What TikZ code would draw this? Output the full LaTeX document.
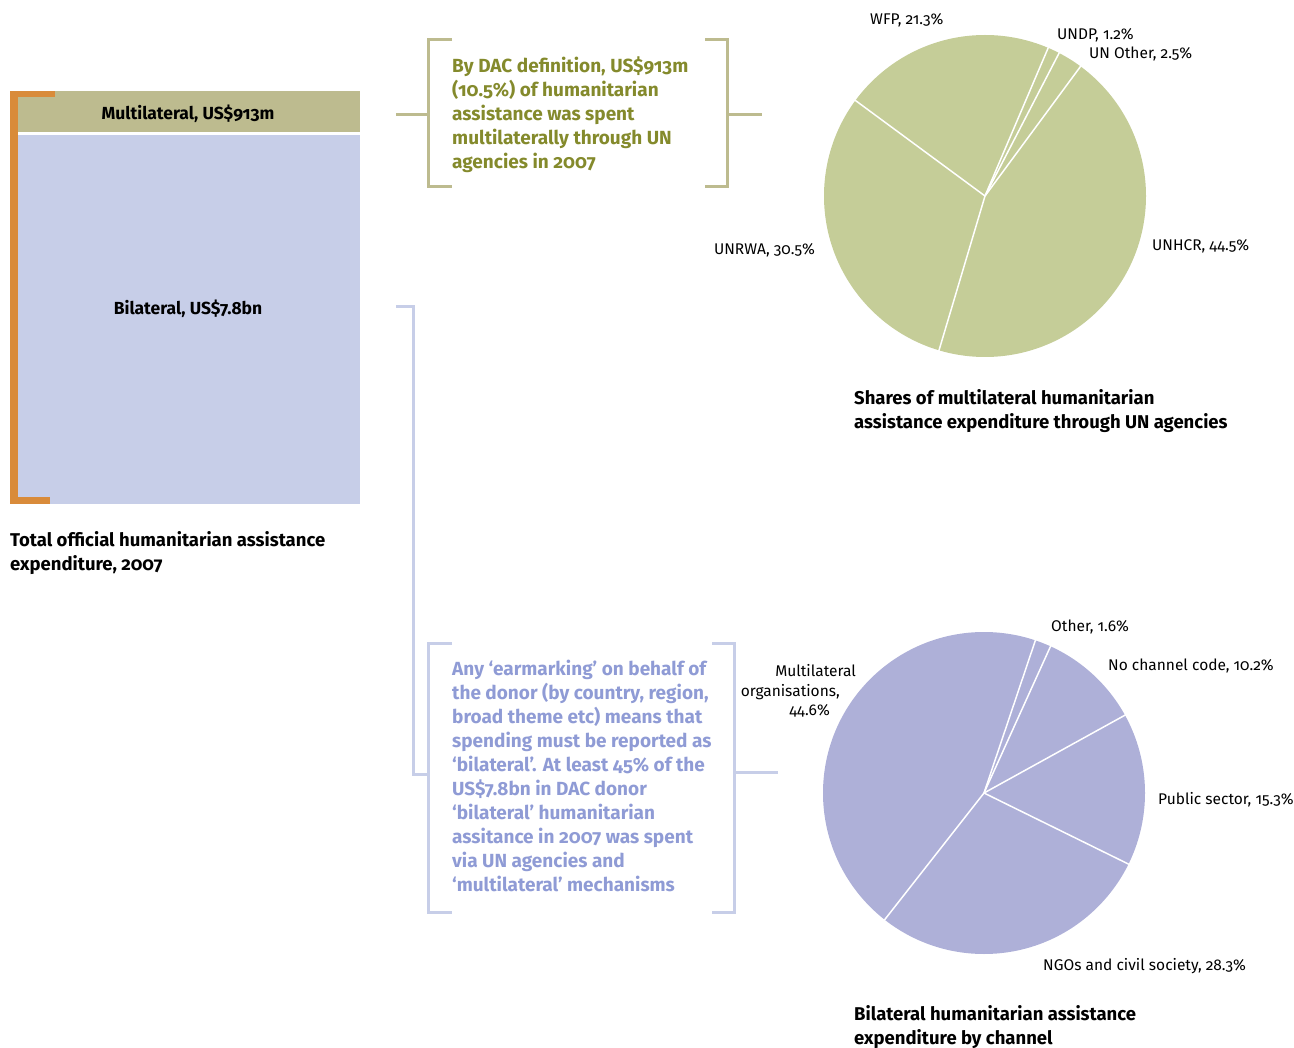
\documentclass[tikz,border=0pt]{standalone}
\usepackage{fontspec}
\setmainfont{Fira Sans}[RawFeature=+onum]
\definecolor{orangebar}{HTML}{D98B3A}
\definecolor{olivebox}{HTML}{BDBB8F}
\definecolor{lavbox}{HTML}{C7CEE8}
\definecolor{olivetext}{HTML}{848A2C}
\definecolor{lavtext}{HTML}{8F9BD5}
\definecolor{pieone}{HTML}{C5CD98}
\definecolor{pietwo}{HTML}{AEB0D8}
\tikzset{
  lbl/.style={inner sep=0pt, font=\fontsize{15.5}{20}\selectfont, text=black},
  capt/.style={inner sep=0pt, anchor=north west, align=left, font=\fontsize{18.5}{24.5}\selectfont\bfseries, text=black},
  note/.style={inner sep=0pt, anchor=north west, align=left, font=\fontsize{19}{24}\selectfont\bfseries},
  barlbl/.style={inner sep=0pt, font=\fontsize{17.5}{20}\selectfont\bfseries},
  brk/.style={line width=3pt},
  sep/.style={draw=white, line width=1.5pt},
}
\begin{document}
\begin{tikzpicture}[x=1pt,y=-1pt]
\useasboundingbox (0,0) rectangle (1294,1048);
% left stacked bar
\fill[olivebox] (18,91) rectangle (360,132);
\fill[lavbox] (18,135) rectangle (360,504);
\fill[orangebar] (10,91) rectangle (18,504);
\fill[orangebar] (10,91) rectangle (55,97);
\fill[orangebar] (10,497) rectangle (50,504);
\node[barlbl] (multi) at (188,114) {Multilateral, US\$913m};
\node[barlbl] (bilat) at (188,309) {Bilateral, US\$7.8bn};
\node[capt] (totcap) at (10,531) {Total official humanitarian assistance\\expenditure, 2007};
% upper note and bracket
\node[note, text=olivetext] (unnote) at (452,57) {By DAC definition, US\$913m\\(10.5\%) of humanitarian\\assistance was spent\\multilaterally through UN\\agencies in 2007};
\coordinate (ua) at (396,115);
\coordinate (ub) at (762,115);
\draw[brk, olivebox] (ua) -- (428,115);
\draw[brk, olivebox] (452,40) -- (428,40) -- (428,187) -- (452,187);
\draw[brk, olivebox] (705,40) -- (727,40) -- (727,187) -- (705,187);
\draw[brk, olivebox] (727,115) -- (ub);
% lower note and bracket
\node[note, text=lavtext] (bilnote) at (452,660) {Any ‘earmarking’ on behalf of\\the donor (by country, region,\\broad theme etc) means that\\spending must be reported as\\‘bilateral’. At least 45\% of the\\US\$7.8bn in DAC donor\\‘bilateral’ humanitarian\\assitance in 2007 was spent\\via UN agencies and\\‘multilateral’ mechanisms};
\coordinate (la) at (396,307);
\coordinate (lb) at (778,772);
\draw[brk, lavbox] (la) -- (413,307) -- (413,774) -- (428,774);
\draw[brk, lavbox] (452,643) -- (428,643) -- (428,912) -- (452,912);
\draw[brk, lavbox] (712,643) -- (734,643) -- (734,912) -- (712,912);
\draw[brk, lavbox] (734,772) -- (lb);
% upper pie
\begin{scope}[shift={(985,196)}, yscale=-1]
  \fill[pieone] (0,0) circle (161);
  \draw[sep] (0,0) -- (53.6:162);
  \draw[sep] (0,0) -- (62.6:162);
  \draw[sep] (0,0) -- (66.9:162);
  \draw[sep] (0,0) -- (143.6:162);
  \draw[sep] (0,0) -- (253.4:162);
\end{scope}
\node[lbl, anchor=base west] (wfp) at (870,25) {WFP, 21.3\%};
\node[lbl, anchor=base west] (undp) at (1057,40) {UNDP, 1.2\%};
\node[lbl, anchor=base west] (unoth) at (1089,59) {UN Other, 2.5\%};
\node[lbl, anchor=base west] (unhcr) at (1152,251) {UNHCR, 44.5\%};
\node[lbl, anchor=base east] (unrwa) at (815,255) {UNRWA, 30.5\%};
\node[capt] (piecap1) at (854,389) {Shares of multilateral humanitarian\\assistance expenditure through UN agencies};
% lower pie
\begin{scope}[shift={(984,793)}, yscale=-1]
  \fill[pietwo] (0,0) circle (161);
  \draw[sep] (0,0) -- (71.4:162);
  \draw[sep] (0,0) -- (65.6:162);
  \draw[sep] (0,0) -- (28.9:162);
  \draw[sep] (0,0) -- (-26.2:162);
  \draw[sep] (0,0) -- (-128.1:162);
\end{scope}
\node[lbl, anchor=base west] (oth) at (1051,631) {Other, 1.6\%};
\node[lbl, anchor=base west] (noch) at (1108,670) {No channel code, 10.2\%};
\node[lbl, anchor=base west] (pub) at (1158,804) {Public sector, 15.3\%};
\node[lbl, anchor=base west] (ngo) at (1043,970) {NGOs and civil society, 28.3\%};
\node[lbl, anchor=base east] (mo1) at (856,676) {Multilateral};
\node[lbl, anchor=base east] (mo2) at (840,696) {organisations,};
\node[lbl, anchor=base east] (mo3) at (830,715) {44.6\%};
\node[capt] (piecap2) at (854,1005) {Bilateral humanitarian assistance\\expenditure by channel};
\end{tikzpicture}
\end{document}
